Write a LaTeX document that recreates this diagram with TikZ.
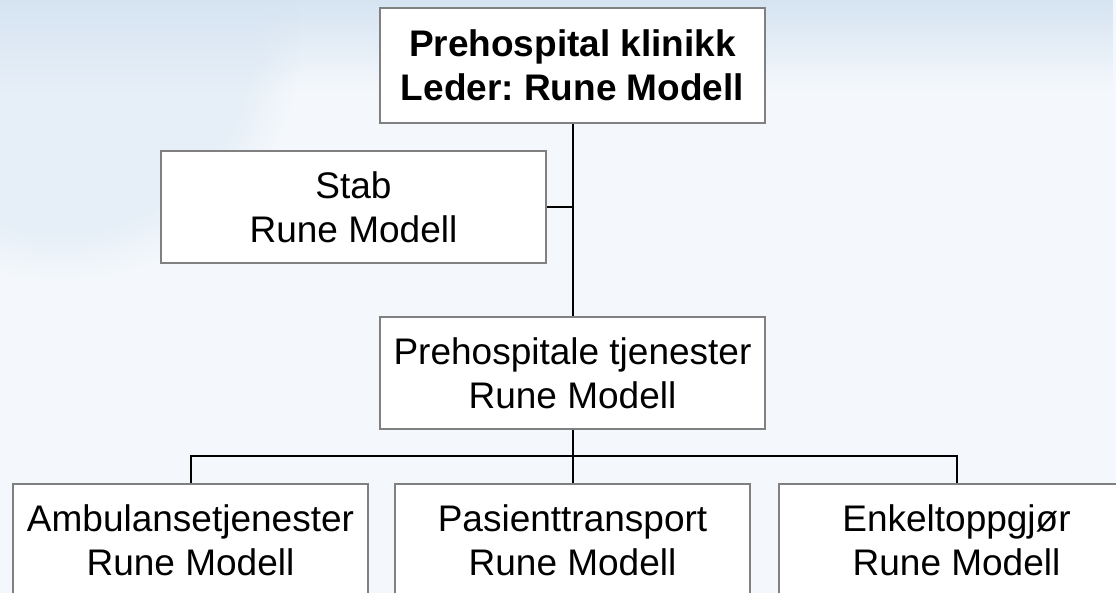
\documentclass[tikz,border=0pt]{standalone}
\usepackage{fontspec}
\setmainfont{Liberation Sans}
\usetikzlibrary{calc,fadings}
\definecolor{bgbase}{RGB}{244,248,252}
\definecolor{bgtop}{RGB}{214,228,242}
\definecolor{boxline}{RGB}{128,128,128}
\tikzset{
	orgbox/.style={draw=boxline, line width=1.5pt, fill=white, align=center, inner sep=0pt, font=\fontsize{37}{44}\selectfont\frenchspacing},
	widebox/.style={orgbox, minimum width=385pt, minimum height=112pt},
	unitbox/.style={orgbox, minimum width=355pt, minimum height=112pt},
	link/.style={line width=2pt, black},
}
\begin{document}
\begin{tikzpicture}[x=1pt, y=-1pt]
			%%%%% START %%%%%
			
			\useasboundingbox (0, 0) rectangle (1116, 593);
			\clip (0, 0) rectangle (1116, 593);
			\fill[bgbase] (0, 0) rectangle (1116, 593);
			\fill[bgtop, path fading=south] (0, 0) rectangle (1116, 90);
			\fill[bgtop, opacity=0.45, path fading=circle with fuzzy edge 20 percent] (60, 40) circle (240);
			
			\node[widebox, minimum height=115pt, font=\fontsize{37}{44}\selectfont\frenchspacing\bfseries] (klinikk) at (572.5, 65.5) {Prehospital klinikk\\Leder: Rune Modell};
			\node[widebox] (stab) at (353.5, 207) {Stab\\Rune Modell};
			\node[widebox] (tjenester) at (572.5, 373) {Prehospitale tjenester\\Rune Modell};
			
			\node[unitbox] (ambulanse) at (190.5, 540) {Ambulansetjenester\\Rune Modell};
			\node[unitbox] (pasient) at (572.5, 540) {Pasienttransport\\Rune Modell};
			\node[unitbox] (enkelt) at (956.5, 540) {Enkeltoppgjør\\Rune Modell};
			
			\coordinate (bus) at (572.5, 456);
			
			\draw[link] (klinikk.south) -- (tjenester.north);
			\draw[link] (stab.east) -- (stab.east -| klinikk.south);
			\draw[link] (tjenester.south) -- (bus);
			\draw[link] (ambulanse.north) |- (bus) -| (enkelt.north);
			\draw[link] (bus) -- (pasient.north);
			
			%%%%% END %%%%%
\end{tikzpicture}
\end{document}
